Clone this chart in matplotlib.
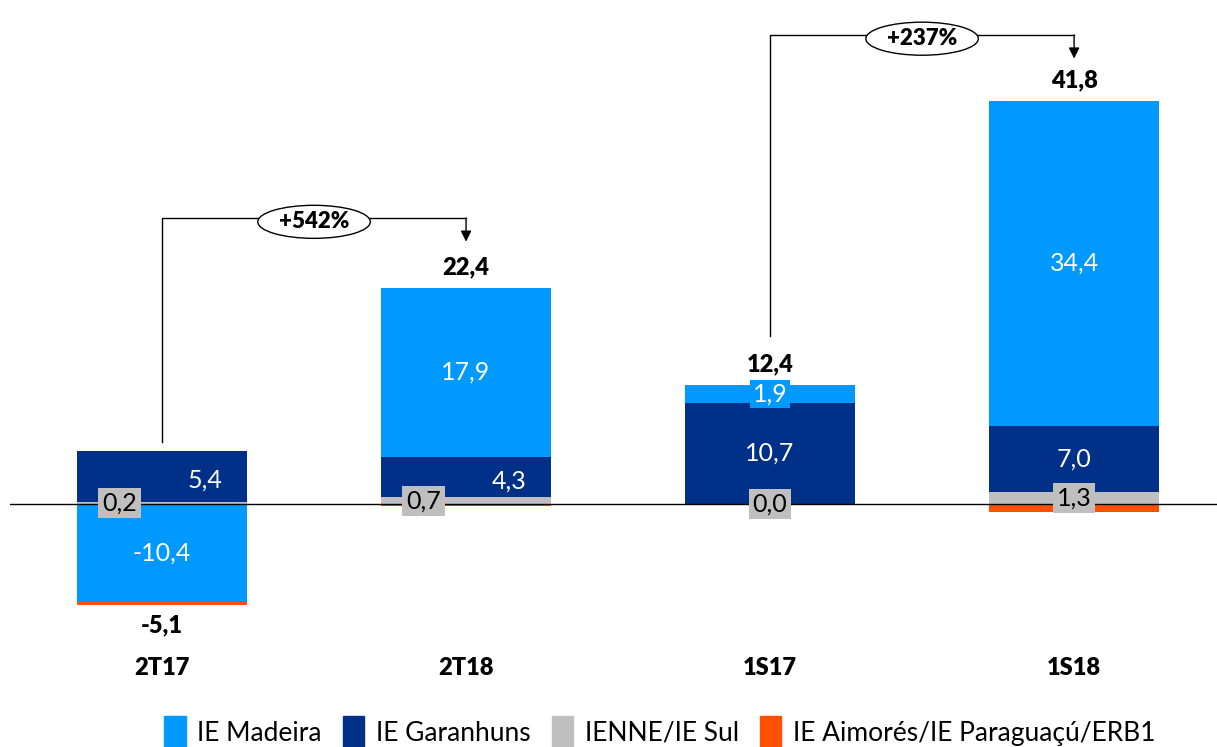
import matplotlib.pyplot as plt
from matplotlib.patches import Ellipse, Patch
import numpy as np

plt.rcParams['font.family'] = ['Lato', 'DejaVu Sans']

periods = ["2T17", "2T18", "1S17", "1S18"]
series = ["IENNE/IE Sul", "IE Garanhuns", "IE Madeira", "IE Aimorés/IE Paraguaçú/ERB1"]
ienne = [0.2, 0.7, 0.0, 1.3]
garanhuns = [5.4, 4.3, 10.7, 7.0]
madeira = [-10.4, 17.9, 1.9, 34.4]
aimores = [-0.3, -0.2, -0.1, -0.8]
totals = [-5.1, 22.4, 12.4, 41.8]
growth = ["+542%", "+237%"]
legend_order = ["IE Madeira", "IE Garanhuns", "IENNE/IE Sul", "IE Aimorés/IE Paraguaçú/ERB1"]

colors = {
    "IE Madeira": "#0099FF",
    "IE Garanhuns": "#003087",
    "IENNE/IE Sul": "#BFBFBF",
    "IE Aimorés/IE Paraguaçú/ERB1": "#FF5000",
}

def fmt(v):
    return f"{v:.1f}".replace(".", ",")

fig = plt.figure(figsize=(12.17, 7.47), dpi=100)
ax = fig.add_axes([10 / 1217, 107 / 747, 1207 / 1217, 640 / 747])
ax.set_xlim(-0.5, 3.47)
ax.set_ylim(-14.4, 53.4)
ax.axis("off")

x = np.arange(len(periods))
width = 0.56
data = [ienne, garanhuns, madeira, aimores]
pos_base = np.zeros(len(periods))
neg_base = np.zeros(len(periods))
seg = {}
for name, vals in zip(series, data):
    vals = np.array(vals)
    base = np.where(vals >= 0, pos_base, neg_base)
    ax.bar(x, vals, width, bottom=base, color=colors[name], zorder=2)
    seg[name] = (base, vals)
    pos_base = pos_base + np.where(vals >= 0, vals, 0)
    neg_base = neg_base + np.where(vals < 0, vals, 0)

ax.axhline(0, color="black", lw=1.0, zorder=3)

fs = 18
# segment labels (x offset in category units)
gar_dx = [0.14, 0.14, 0.0, 0.0]
ienne_dx = [-0.14, -0.14, 0.0, 0.0]
for i in range(len(periods)):
    b, v = seg["IE Madeira"]
    ax.text(x[i], b[i] + v[i] / 2, fmt(v[i]), ha="center", va="center", color="white",
            fontsize=fs, zorder=4,
            bbox=dict(boxstyle="square,pad=0.1", fc=colors["IE Madeira"], ec="none") if abs(v[i]) < 3 else None)
    b, v = seg["IE Garanhuns"]
    ax.text(x[i] + gar_dx[i], b[i] + v[i] / 2 - (0.4 if i < 2 else 0), fmt(v[i]), ha="center", va="center",
            color="white", fontsize=fs, zorder=4)
    b, v = seg["IENNE/IE Sul"]
    ax.text(x[i] + ienne_dx[i], b[i] + v[i] / 2, fmt(v[i]), ha="center", va="center", color="black",
            fontsize=fs, zorder=5, bbox=dict(boxstyle="square,pad=0.15", fc="#BFBFBF", ec="none"))

# totals
for i, t in enumerate(totals):
    if t >= 0:
        ax.text(x[i], pos_base[i] + 2.2, fmt(t), ha="center", va="center", fontsize=17,
                fontweight="heavy", zorder=4)
    else:
        ax.text(x[i], neg_base[i] - 2.1, fmt(t), ha="center", va="center", fontsize=17,
                fontweight="heavy", zorder=4)
    ax.text(x[i], -17.4, periods[i], ha="center", va="center", fontsize=17,
            fontweight="heavy", clip_on=False)

# growth connectors
pairs = [(0, 1, 6.6), (2, 3, 17.8)]
for (a, b, start), g in zip(pairs, growth):
    end = totals[b] + 5.4
    top = end + 2.5
    ax.plot([x[a], x[a], x[b]], [start, top, top], color="black", lw=1.0, zorder=3)
    ax.annotate("", xy=(x[b], end), xytext=(x[b], top),
                arrowprops=dict(arrowstyle="-|>", color="black", lw=1.0,
                                mutation_scale=16, shrinkA=0, shrinkB=0))
    cx = (x[a] + x[b]) / 2
    ax.add_patch(Ellipse((cx, top - 0.4), 0.37, 3.5, fc="white", ec="black", lw=1.0, zorder=4))
    ax.text(cx, top - 0.4, g, ha="center", va="center", fontsize=16, fontweight="heavy", zorder=5)

handles = [Patch(color=colors[n]) for n in legend_order]
fig.legend(handles, legend_order, loc="center", bbox_to_anchor=(660 / 1217, 1 - 732 / 747),
           ncol=4, frameon=False, fontsize=19, handlelength=0.8, handleheight=1.5,
           handletextpad=0.45, columnspacing=0.8)

fig.savefig("out.png", dpi=100)
